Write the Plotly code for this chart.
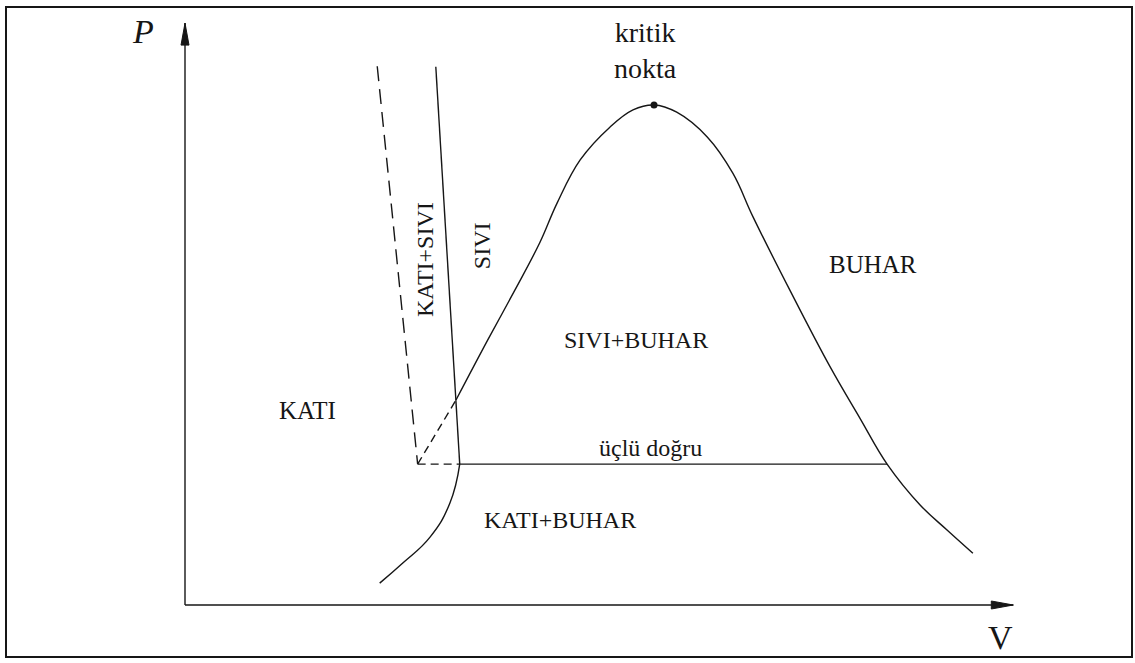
import plotly.graph_objects as go

# Schematic P-V phase diagram (V horizontal, P vertical), arbitrary units
TRIPLE_P = 2.45

# sublimation curve (solid + vapour boundary), ends at the triple point liquid side
sub_v = [2.36, 2.64, 2.97, 3.21, 3.33]
sub_p = [0.38, 0.73, 1.18, 1.77, TRIPLE_P]

# saturation dome above the solid-liquid line, through the critical point
dome_v = [3.285, 3.67, 4.00, 4.30, 4.51, 4.79, 5.15, 5.43, 5.685, 5.96, 6.33,
          6.64, 6.885, 7.33, 7.82, 8.18, 8.51, 8.91, 9.24, 9.55]
dome_p = [3.565, 4.61, 5.48, 6.30, 6.99, 7.74, 8.31, 8.61, 8.696, 8.57, 8.14,
          7.51, 6.75, 5.48, 4.14, 3.25, TRIPLE_P, 1.74, 1.30, 0.90]

# dashed continuation of the dome down to the solid end of the triple line
dome_dash_v = [2.82, 3.285]
dome_dash_p = [TRIPLE_P, 3.565]

# melting line (liquid side) and solid side (dashed)
melt_v = [3.04, 3.33]
melt_p = [9.36, TRIPLE_P]
melt_dash_v = [2.33, 2.82]
melt_dash_p = [9.37, TRIPLE_P]

# triple line: dashed across the solid-liquid part, solid up to the vapour side
triple_dash_v = [2.82, 3.33]
triple_v = [3.33, 8.51]

critical_v, critical_p = 5.685, 8.696

axis_v_end = 10.04
axis_p_end = 10.12

labels = [
    ("kritik<br>nokta", 5.576, 9.65, 28, 0),
    ("BUHAR", 8.34, 5.93, 25, 0),
    ("SIVI+BUHAR", 5.47, 4.61, 24, 0),
    ("KATI", 1.48, 3.39, 25, 0),
    ("üçlü doğru", 5.64, 2.73, 24, 0),
    ("KATI+BUHAR", 4.55, 1.48, 24, 0),
    ("KATI+SIVI", 2.91, 6.00, 24, -90),
    ("SIVI", 3.60, 6.24, 24, -90),
]

INK = "#161616"
FONT = "Liberation Serif, Times New Roman, serif"
W, H = 1135, 663
x_range = [-2.2424, 11.515]
y_range = [-1.0087, 10.5217]
px_per_v = W / (x_range[1] - x_range[0])
px_per_p = H / (y_range[1] - y_range[0])

fig = go.Figure()

def add_line(xs, ys, dash="solid", shape="linear", smoothing=1.0):
    fig.add_trace(go.Scatter(x=xs, y=ys, mode="lines",
                             line=dict(color=INK, width=1.4, dash=dash, shape=shape,
                                       smoothing=smoothing),
                             hoverinfo="skip", showlegend=False))

add_line(sub_v, sub_p, shape="spline", smoothing=1.3)
add_line(dome_v, dome_p, shape="spline", smoothing=1.1)
add_line(dome_dash_v, dome_dash_p, dash="8px,5px")
add_line(melt_v, melt_p)
add_line(melt_dash_v, melt_dash_p, dash="15px,8px")
add_line(triple_dash_v, [TRIPLE_P, TRIPLE_P], dash="8px,5px")
add_line(triple_v, [TRIPLE_P, TRIPLE_P])

fig.add_trace(go.Scatter(x=[critical_v], y=[critical_p], mode="markers",
                         marker=dict(color=INK, size=7), hoverinfo="skip",
                         showlegend=False))

# axes with arrowheads
add_line([0, 0], [0, axis_p_end])
add_line([0, axis_v_end], [0, 0])
head_len_p = 22 / px_per_p
head_half_v = 4 / px_per_v
head_len_v = 22 / px_per_v
head_half_p = 4 / px_per_p
fig.add_shape(type="path", xref="x", yref="y", fillcolor=INK, line=dict(color=INK, width=1),
              path=f"M {-head_half_v} {axis_p_end - head_len_p} L 0 {axis_p_end} "
                   f"L {head_half_v} {axis_p_end - head_len_p} Z")
fig.add_shape(type="path", xref="x", yref="y", fillcolor=INK, line=dict(color=INK, width=1),
              path=f"M {axis_v_end - head_len_v} {-head_half_p} L {axis_v_end} 0 "
                   f"L {axis_v_end - head_len_v} {head_half_p} Z")

fig.add_annotation(x=-0.51, y=9.97, text="<i>P</i>", showarrow=False,
                   font=dict(family=FONT, size=34, color=INK))
fig.add_annotation(x=9.88, y=-0.57, text="V", showarrow=False,
                   font=dict(family=FONT, size=34, color=INK))

for text, vx, py, size, ang in labels:
    fig.add_annotation(x=vx, y=py, text=text, showarrow=False, textangle=ang,
                       font=dict(family=FONT, size=size, color=INK))

# outer frame
fig.add_shape(type="rect", xref="paper", yref="paper",
              x0=6 / W, x1=1132 / W, y0=1 - 657 / H, y1=1 - 7 / H,
              line=dict(color=INK, width=2))

fig.update_xaxes(range=x_range, visible=False, fixedrange=True)
fig.update_yaxes(range=y_range, visible=False, fixedrange=True)
fig.update_layout(width=W, height=H, margin=dict(l=0, r=0, t=0, b=0),
                  paper_bgcolor="white", plot_bgcolor="white",
                  font=dict(family=FONT))

fig.write_html("out.html")
